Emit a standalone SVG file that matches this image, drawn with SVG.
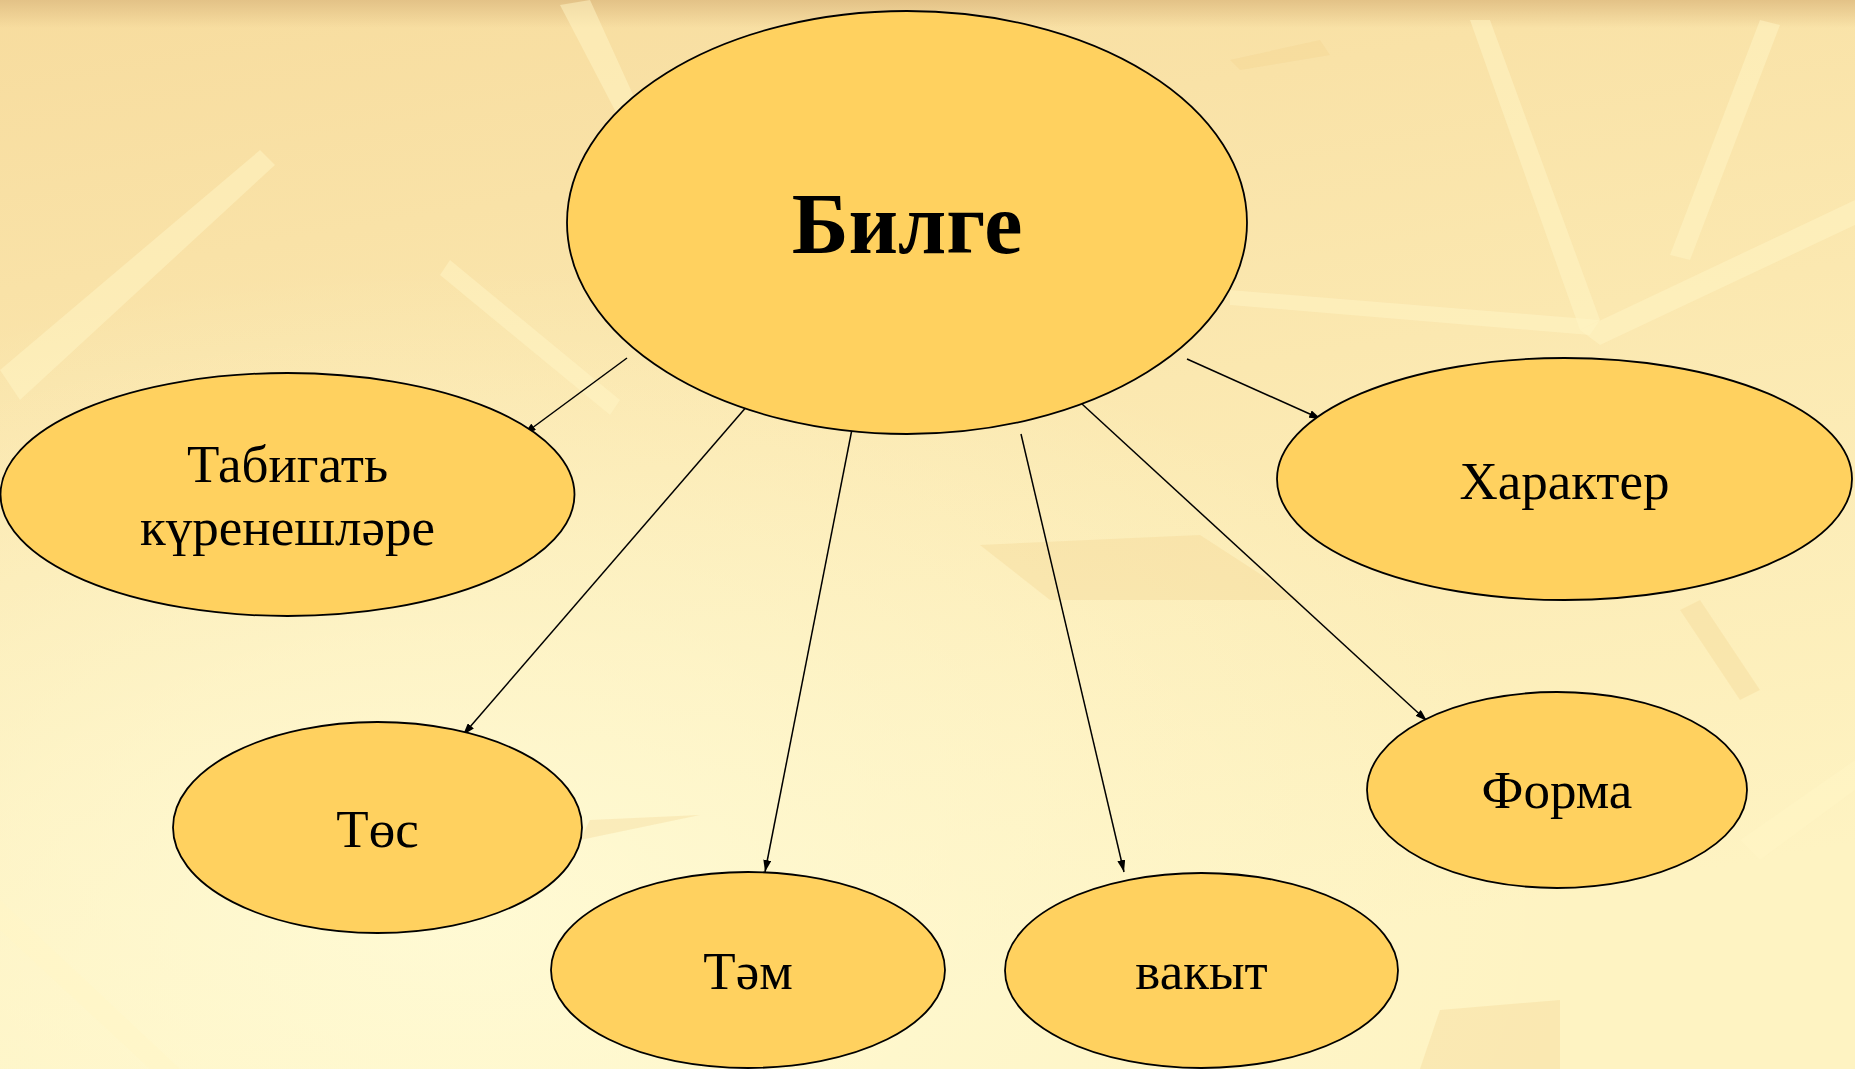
<svg xmlns="http://www.w3.org/2000/svg" width="1855" height="1069" viewBox="0 0 1855 1069">
<style>
.node ellipse{fill:#FFD15F;stroke:#000;stroke-width:1.8}
.lbl{font-family:"Liberation Serif","Times New Roman",serif;font-size:53px;fill:#000;text-anchor:middle}
.big{font-family:"Liberation Serif","Times New Roman",serif;font-size:86px;font-weight:bold;fill:#000;text-anchor:middle}
.conn line{stroke:#000;stroke-width:1.5;marker-end:url(#ah)}
.lite{fill:#FFF6C6;opacity:0.5}
.dark{fill:#F2CF8A;opacity:0.3}
</style>
<defs>
<marker id="ah" viewBox="0 0 12 8" refX="12" refY="4" markerWidth="12" markerHeight="8" markerUnits="userSpaceOnUse" orient="auto">
<path d="M0,0 L12,4 L0,8 Z" fill="#000"/>
</marker>
<linearGradient id="bg" x1="0" y1="0" x2="0.3" y2="1">
<stop offset="0" stop-color="#F7DC9E"/>
<stop offset="0.5" stop-color="#FBE8B0"/>
<stop offset="1" stop-color="#FEF3C2"/>
</linearGradient>
<linearGradient id="top" x1="0" y1="0" x2="0" y2="1">
<stop offset="0" stop-color="#E3C287"/>
<stop offset="1" stop-color="#E3C287" stop-opacity="0"/>
</linearGradient>
<radialGradient id="glow" cx="0.25" cy="0.85" r="0.6">
<stop offset="0" stop-color="#FFFBD6" stop-opacity="0.9"/>
<stop offset="1" stop-color="#FFFBD6" stop-opacity="0"/>
</radialGradient>
</defs>
<rect width="1855" height="1069" fill="url(#bg)"/>
<rect width="1855" height="1069" fill="url(#glow)"/>
<rect width="1855" height="28" fill="url(#top)"/>
<g id="texture">
<polygon class="lite" points="1470,20 1490,20 1600,320 1580,330"/>
<polygon class="lite" points="1760,20 1780,25 1690,260 1670,255"/>
<polygon class="lite" points="1580,330 1855,200 1855,225 1600,345"/>
<polygon class="lite" points="1230,290 1600,320 1590,335 1230,305"/>
<polygon class="lite" points="0,370 260,150 275,165 20,400"/>
<polygon class="lite" points="450,260 620,400 610,415 440,275"/>
<polygon class="lite" points="560,5 590,0 640,110 620,120"/>
<polygon class="lite" points="0,900 180,1069 150,1069 0,930"/>
<polygon class="lite" points="1740,840 1855,760 1855,790 1760,860"/>
<polygon class="dark" points="980,545 1200,535 1300,600 1050,600"/>
<polygon class="dark" points="590,820 700,815 580,840"/>
<polygon class="dark" points="1440,1010 1560,1000 1560,1069 1420,1069"/>
<polygon class="dark" points="1700,600 1760,690 1740,700 1680,610"/>
<polygon class="dark" points="1320,40 1230,60 1240,70 1330,55"/>
</g>
<g id="connectors" class="conn">
<line x1="627" y1="358" x2="524" y2="434"/>
<line x1="748" y1="405" x2="463" y2="735"/>
<line x1="854" y1="419" x2="765" y2="872"/>
<line x1="1021" y1="434" x2="1124" y2="872"/>
<line x1="1082" y1="404" x2="1427" y2="721"/>
<line x1="1187" y1="359" x2="1321" y2="419"/>
</g>
<g id="bilge" class="node">
<ellipse cx="907" cy="222.5" rx="340" ry="211.5"/>
<text class="big" x="907" y="253">Билге</text>
</g>
<g id="tabigat" class="node">
<ellipse cx="287.5" cy="494.5" rx="287" ry="121.5"/>
<text class="lbl" x="287.5" y="482">Табигать</text>
<text class="lbl" x="287.5" y="545">күренешләре</text>
</g>
<g id="kharakter" class="node">
<ellipse cx="1564.5" cy="479" rx="287.5" ry="121"/>
<text class="lbl" x="1564.5" y="499">Характер</text>
</g>
<g id="tos" class="node">
<ellipse cx="377.5" cy="827.5" rx="204.5" ry="105.5"/>
<text class="lbl" x="377.5" y="847">Төс</text>
</g>
<g id="tam" class="node">
<ellipse cx="748" cy="970" rx="197" ry="98"/>
<text class="lbl" x="748" y="989">Тәм</text>
</g>
<g id="vakyt" class="node">
<ellipse cx="1201.5" cy="970.5" rx="196.5" ry="97.5"/>
<text class="lbl" x="1201.5" y="989">вакыт</text>
</g>
<g id="forma" class="node">
<ellipse cx="1557" cy="790" rx="190" ry="98"/>
<text class="lbl" x="1557" y="808">Форма</text>
</g>
</svg>
